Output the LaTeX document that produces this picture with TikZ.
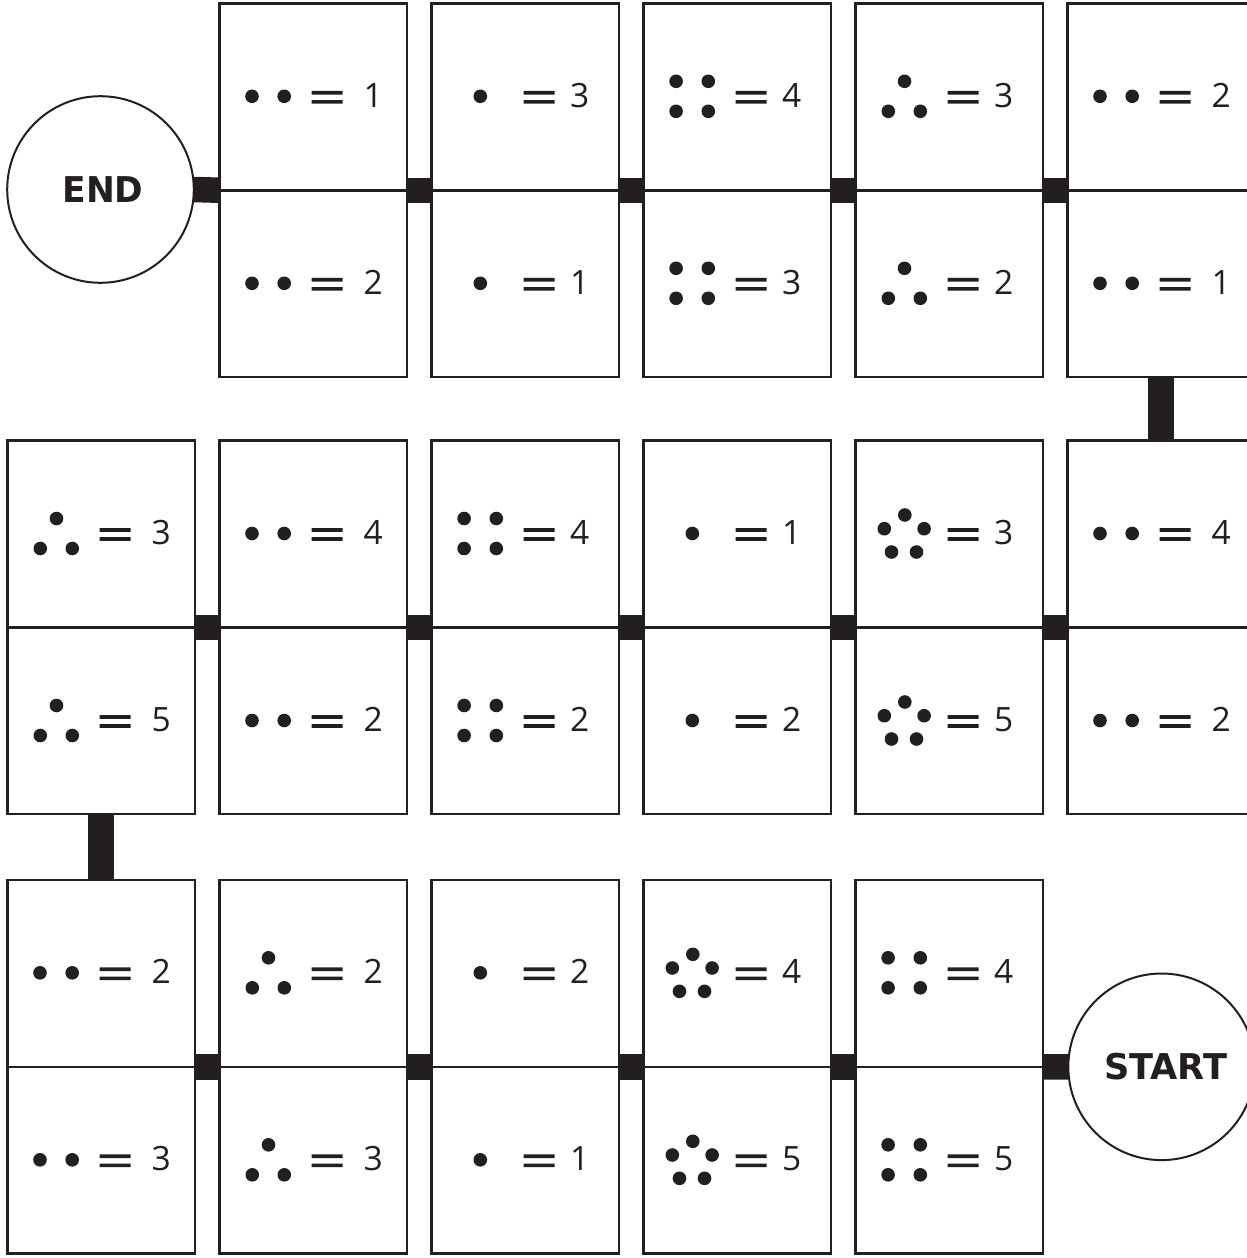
\documentclass[tikz,border=0pt]{standalone}
\usepackage{fontspec}
\usepackage{graphicx}
\setmainfont{Open Sans}
\newfontfamily\labelfont{DejaVu Sans}
\definecolor{ink}{HTML}{231F20}
\tikzset{
  tile/.style={draw=ink, line width=2.5pt, minimum width=187.5pt, minimum height=373.5pt,
    inner sep=0pt, outer sep=0pt, anchor=north west},
  seam/.style={draw=ink, line width=2.5pt},
  link/.style={draw=ink, line width=25.5pt},
  goal/.style={circle, draw=ink, line width=2pt, minimum size=186.6pt, inner sep=0pt,
    outer sep=0pt, text=ink, font=\labelfont\bfseries\fontsize{35.5}{40}\selectfont},
  pip/.style={fill=ink},
  digit/.style={anchor=base west, inner sep=0pt, text=ink, font=\fontsize{33.5}{40}\selectfont},
}
% pip patterns, drawn relative to (left edge of tile, centre line of the half)
\def\pr{6.8pt}
\newcommand\pipsone{\fill[pip] (48.8,0) circle[radius=\pr];}
\newcommand\pipstwo{\fill[pip] (32.5,0) circle[radius=\pr] (64.7,0) circle[radius=\pr];}
\newcommand\pipsthree{\fill[pip] (49,-15) circle[radius=\pr]
  (32.8,15) circle[radius=\pr] (64.8,15) circle[radius=\pr];}
\newcommand\pipsfour{\fill[pip] (32.6,-15) circle[radius=\pr] (64.8,-15) circle[radius=\pr]
  (32.6,15) circle[radius=\pr] (64.8,15) circle[radius=\pr];}
\newcommand\pipsfive{\fill[pip] (49.3,-18.5) circle[radius=\pr]
  (28.8,-4.8) circle[radius=\pr] (68.6,-4.8) circle[radius=\pr]
  (36,18.5) circle[radius=\pr] (61,18.5) circle[radius=\pr];}
% one half of a domino: name, x, y, pattern, value, value offset
\newcommand\dhalf[6]{%
  \begin{scope}[shift={(#2,#3)}]
    \csname pips#4\endcsname
    \fill[pip] (92,-5.4) rectangle (123,-1.7) (92,3.7) rectangle (123,7.4);
    \node[digit] (#1) at (#6,11) {#5};
  \end{scope}}
% a whole domino: name, left, top, upper pattern, upper value, lower pattern, lower value, value offset
\newcommand\domino[8]{%
  \node[tile] (#1) at (#2,#3) {};
  \draw[seam] (#1.west) -- (#1.east);
  \dhalf{#1-a}{#2}{#3+92.8}{#4}{#5}{#8}
  \dhalf{#1-b}{#2}{#3+279.8}{#6}{#7}{#8}}
\begin{document}
\begin{tikzpicture}[x=1pt, y=-1pt]
  \useasboundingbox (0,0) rectangle (1247,1258);
  \clip (0,0) rectangle (1247,1258);
  \fill[white] (0,0) rectangle (1247,1258);

  % upper row
  \domino{t12}{219.5}{3.5}{two}{1}{two}{2}{144}
  \domino{t13}{431.5}{3.5}{one}{3}{one}{1}{138.5}
  \domino{t14}{643.5}{3.5}{four}{4}{four}{3}{138.5}
  \domino{t15}{855.5}{3.5}{three}{3}{three}{2}{138.5}
  \domino{t16}{1067.5}{3.5}{two}{2}{two}{1}{144}

  % middle row
  \domino{t21}{7.5}{440.7}{three}{3}{three}{5}{144}
  \domino{t22}{219.5}{440.7}{two}{4}{two}{2}{144}
  \domino{t23}{431.5}{440.7}{four}{4}{four}{2}{138.5}
  \domino{t24}{643.5}{440.7}{one}{1}{one}{2}{138.5}
  \domino{t25}{855.5}{440.7}{five}{3}{five}{5}{138.5}
  \domino{t26}{1067.5}{440.7}{two}{4}{two}{2}{144}

  % lower row
  \domino{t31}{7.5}{880}{two}{2}{two}{3}{144}
  \domino{t32}{219.5}{880}{three}{2}{three}{3}{144}
  \domino{t33}{431.5}{880}{one}{2}{one}{1}{138.5}
  \domino{t34}{643.5}{880}{five}{4}{five}{5}{138.5}
  \domino{t35}{855.5}{880}{four}{4}{four}{5}{138.5}

  % end points
  \node[goal] (end) at (100.5,189.5) {\hspace*{5pt}\scalebox{0.97}[1]{END}};
  \node[goal] (start) at (1161.6,1066.8) {\hspace*{8pt}\scalebox{0.99}[1]{START}};

  % links along the path
  \draw[link] (end.east) -- (t12.west);
  \draw[link] (t12.east) -- (t13.west);
  \draw[link] (t13.east) -- (t14.west);
  \draw[link] (t14.east) -- (t15.west);
  \draw[link] (t15.east) -- (t16.west);
  \draw[link, line width=26pt] (t16.south) -- (t26.north);
  \draw[link] (t21.east) -- (t22.west);
  \draw[link] (t22.east) -- (t23.west);
  \draw[link] (t23.east) -- (t24.west);
  \draw[link] (t24.east) -- (t25.west);
  \draw[link] (t25.east) -- (t26.west);
  \draw[link, line width=26pt] (t21.south) -- (t31.north);
  \draw[link] (t31.east) -- (t32.west);
  \draw[link] (t32.east) -- (t33.west);
  \draw[link] (t33.east) -- (t34.west);
  \draw[link] (t34.east) -- (t35.west);
  \draw[link] (t35.east) -- (start.west);
\end{tikzpicture}
\end{document}
